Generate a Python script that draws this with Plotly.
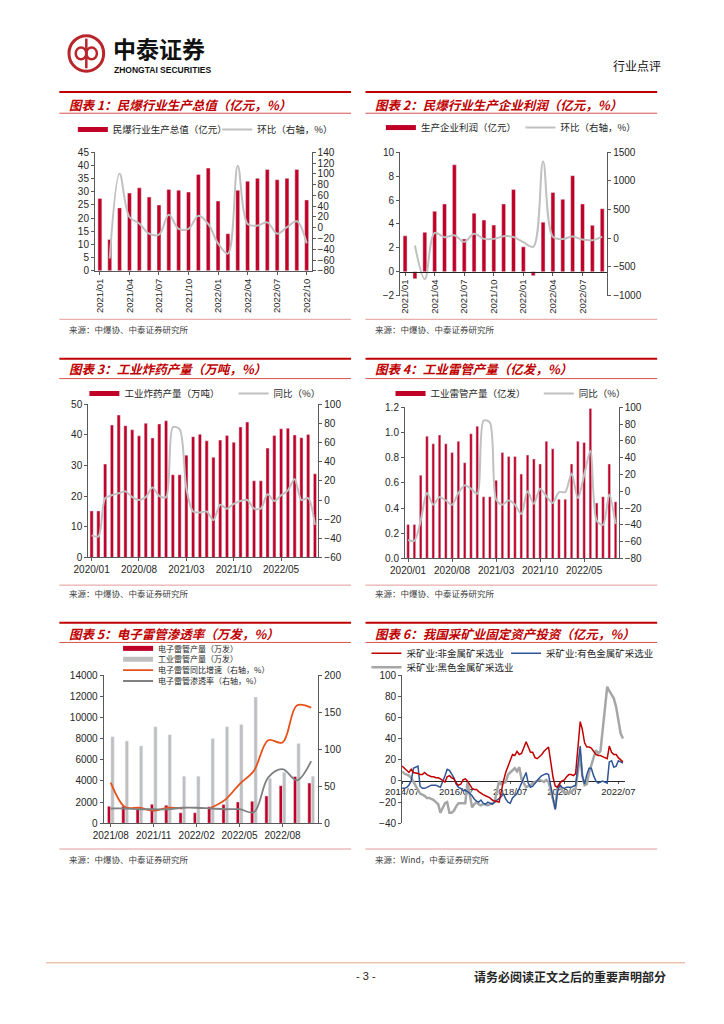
import plotly.graph_objects as go
import pandas as pd

W, H = 724, 1024


def px(x):
    return x / W


def py(y):
    return 1 - y / H


RED = '#C00026'
LINE_GRAY = '#C0C0C0'
TITLE_RED = '#C00000'
CJK = 'Noto Sans CJK SC'
NUM = 'Liberation Sans'

# ---------------- data ----------------
# Chart 1: 民爆行业生产总值（亿元）, 环比（%）
c1_months = [f'{d:%Y/%m}' for d in pd.date_range('2021-01-01', '2022-10-01', freq='MS')]
c1_value = [27.5, 11.9, 23.9, 29.5, 31.5, 28.0, 25.0, 30.9, 30.6, 29.9, 36.6, 39.0,
            26.5, 14.1, 30.6, 34.0, 35.1, 38.5, 34.6, 35.1, 38.5, 26.9]
c1_mom = [None, -57, 100, 20, 8, -11, -13, 24, -2, -2, 22, 7,
          -29, -48, 115, 7, 4, 10, -11, 1, 12, -29]
c1_ticks = ['2021/01', '2021/04', '2021/07', '2021/10', '2022/01', '2022/04', '2022/07', '2022/10']

# Chart 2: 生产企业利润（亿元）, 环比（%）
c2_months = [f'{d:%Y/%m}' for d in pd.date_range('2021-01-01', '2022-09-01', freq='MS')]
c2_profit = [3.0, -0.6, 3.3, 5.06, 5.67, 8.95, 2.74, 4.9, 4.32, 3.9, 5.67, 6.88,
             2.08, -0.34, 4.15, 6.63, 6.06, 8.04, 5.67, 3.88, 5.28]
c2_mom = [None, -126, -713, 92, 17, 52, -63, 80, -11, -11, 34, 23,
          -69, -150, 1340, 23, -11, 29, -23, -34, 29]
c2_ticks = ['2021/01', '2021/04', '2021/07', '2021/10', '2022/01', '2022/04', '2022/07']

# Chart 3: 工业炸药产量（万吨）, 同比（%）
c34_months = [f'{d:%Y/%m}' for d in pd.date_range('2020-01-01', '2022-10-01', freq='MS')]
c3_output = [15.2, 15.2, 30.5, 43.2, 46.5, 43.0, 41.7, 39.7, 43.8, 39.0, 43.6, 44.6,
             27.0, 27.0, 33.4, 39.4, 40.2, 38.1, 32.7, 38.3, 39.8, 37.6, 42.6, 44.2,
             25.0, 25.0, 35.7, 39.8, 42.0, 42.2, 40.0, 39.1, 40.1, 27.3]
c3_yoy = [-37, -38, 2, 5, 7, 9, 3, 0, 3, 13, 4, 3,
          76, 74, 12, -12, -13, -12, -21, -5, -9, -4, -1, 0,
          -9, -9, 6, -1, 5, 10, 22, 0, 2, -26]
c34_ticks = ['2020/01', '2020/08', '2021/03', '2021/10', '2022/05']

# Chart 4: 工业雷管产量（亿发）, 同比（%）
c4_output = [0.27, 0.27, 0.66, 0.97, 0.91, 0.98, 0.91, 0.84, 0.93, 0.76, 0.99, 1.05,
             0.49, 0.49, 0.62, 0.84, 0.81, 0.81, 0.67, 0.82, 0.79, 0.75, 0.93, 0.87,
             0.47, 0.47, 0.75, 0.93, 0.92, 1.19, 0.44, 0.49, 0.75, 0.45]
c4_yoy = [-58, -59, -35, -2, -16, -7, -11, -16, -2, 7, 3, -3,
          84, 82, -10, -16, -11, -16, -27, 0, -15, 3, -6, -14,
          -1, -1, 21, -8, 19, 48, -35, -40, -4, -39]

# Chart 5: 电子雷管渗透率
c5_months = [f'{d:%Y/%m}' for d in pd.date_range('2021-08-01', '2022-10-01', freq='MS')]
c5_electronic = [1620, 1620, 1400, 1800, 1710, 1000, 1000, 1560, 1770, 2020, 2080, 2580, 3550, 4420, 3800]
c5_industrial = [8180, 7780, 7310, 9120, 8370, 4450, 4450, 8000, 9120, 9330, 11920, 4260, 4820, 7530, 4450]
c5_growth = [55, 22, 21, 17, 21, 20, None, 21, 32, 53, 71, 112, 109, 159, 156]
c5_penetration = [20, 20, 19, 19, 19, 21, 21, 20, 19, 19, 15, 62, 73, 58, 84]
c5_ticks = ['2021/08', '2021/11', '2022/02', '2022/05', '2022/08']

# Chart 6: 我国采矿业固定资产投资（累计同比, %）; January not published
c6_dates = [d for d in pd.date_range('2014-07-01', '2022-09-01', freq='MS') if d.month != 1]
c6_nonmetal = [
    14, 12, 10, 8, 11, 8,
    7, 6, 6, 8, 6, 5, 4, 4, 3, 3, 2,
    -1, 4, 5, 3, 2, -2, -4, -3, 1, 2, 0,
    -7, -8, -8, -10, -12, -13, -14, -15, -16, -18, -19,
    -20, -10, 0, 8, 14, 20, 25, 24, 28, 25, 26,
    37, 32, 27, 27, 22, 21, 23, 25, 28, 30, 32,
    3, -5, -6, -2, 0, 1, 4, 6, 6, 5, 7,
    56, 49, 36, 32, 32, 31, 28, 25, 24, 24, 23,
    21, 33, 27, 25, 25, 22, 20, 18]
c6_nonferrous = [
    -7, -7, -6, -4, 0, 12,
    14, -5, -7, -7, -6, -5, -4, -4, -4, -5, -6,
    5, 11, 10, 7, 3, -3, -6, -7, -9, -9, -10,
    -14, -17, -19, -20, -18, -21, -22, -20, -21, -22, -20,
    -17, -15, -12, -17, -20, -21, -16, -14, -12, -7, -2,
    8, -2, -6, -5, -2, 1, 3, 5, 6, 7, 6,
    -18, -27, -10, -4, -6, -7, -6, -6, -6, -5, -4,
    33, 5, -3, 6, 12, 12, 5, 0, -2, -1, 0,
    -2, 18, 19, 13, 14, 19, 18, 17]
c6_ferrous = [
    9, 7, 6, 5, 3, -1,
    -9, -12, -13, -14, -16, -16, -17, -18, -20, -22, -30,
    -21, -20, -30, -30, -28, -24, -21, -21, -21, -21, -1,
    -25, -22, -20, -22, -23, -22, -22, -23, -22, -21, -20,
    0, -3, -2, -1, 6, 8, 10, 12, 9, 13, 2,
    -6, -5, -4, -2, -1, 0, 1, 0, -1, 1, -1,
    -18, -26, -5, -3, -9, -11, -11, -11, -11, -8, -7,
    25, 5, -4, -3, 8, 14, 22, 29, 26, 28, 50,
    89, 85, 82, 78, 70, 58, 45, 40]

# ---------------- figure ----------------
fig = go.Figure()


def legend_entry(name, color, width, legend, xa, ya):
    fig.add_trace(go.Scatter(x=[None], y=[None], mode='lines', name=name,
                             line=dict(color=color, width=width), legend=legend,
                             xaxis=xa, yaxis=ya, hoverinfo='skip'))


# Chart 1
fig.add_trace(go.Bar(x=c1_months, y=c1_value, marker_color=RED, width=0.4,
                     xaxis='x', yaxis='y', showlegend=False))
legend_entry('民爆行业生产总值（亿元）', RED, 5, 'legend', 'x', 'y')
fig.add_trace(go.Scatter(x=c1_months, y=c1_mom, mode='lines', name='环比（右轴，%）',
                         line=dict(color=LINE_GRAY, width=2, shape='spline', smoothing=1.0),
                         xaxis='x', yaxis='y2', legend='legend2'))

# Chart 2
fig.add_trace(go.Bar(x=c2_months, y=c2_profit, marker_color=RED, width=0.4,
                     xaxis='x2', yaxis='y3', showlegend=False))
legend_entry('生产企业利润（亿元）', RED, 5, 'legend3', 'x2', 'y3')
fig.add_trace(go.Scatter(x=c2_months, y=c2_mom, mode='lines', name='环比（右轴，%）',
                         line=dict(color=LINE_GRAY, width=2, shape='spline', smoothing=1.0),
                         xaxis='x2', yaxis='y4', legend='legend4'))

# Chart 3
fig.add_trace(go.Bar(x=c34_months, y=c3_output, marker_color=RED, width=0.47,
                     xaxis='x3', yaxis='y5', showlegend=False))
legend_entry('工业炸药产量（万吨）', RED, 5, 'legend5', 'x3', 'y5')
fig.add_trace(go.Scatter(x=c34_months, y=c3_yoy, mode='lines', name='同比（%）',
                         line=dict(color=LINE_GRAY, width=2, shape='spline', smoothing=0.8),
                         xaxis='x3', yaxis='y6', legend='legend6'))

# Chart 4
fig.add_trace(go.Bar(x=c34_months, y=c4_output, marker_color=RED, width=0.42,
                     xaxis='x4', yaxis='y7', showlegend=False))
legend_entry('工业雷管产量（亿发）', RED, 5, 'legend7', 'x4', 'y7')
fig.add_trace(go.Scatter(x=c34_months, y=c4_yoy, mode='lines', name='同比（%）',
                         line=dict(color=LINE_GRAY, width=2, shape='spline', smoothing=0.8),
                         xaxis='x4', yaxis='y8', legend='legend8'))

# Chart 5
fig.add_trace(go.Bar(x=c5_months, y=c5_electronic, marker_color=RED, width=0.23, offset=-0.235,
                     xaxis='x5', yaxis='y9', showlegend=False))
fig.add_trace(go.Bar(x=c5_months, y=c5_industrial, marker_color='#BFBFBF', width=0.23, offset=0.005,
                     xaxis='x5', yaxis='y9', showlegend=False))
legend_entry('电子雷管产量（万发）', RED, 5, 'legend9', 'x5', 'y9')
legend_entry('工业雷管产量（万发）', '#BFBFBF', 5, 'legend10', 'x5', 'y9')
fig.add_trace(go.Scatter(x=c5_months, y=c5_growth, mode='lines', name='电子雷管同比增速（右轴，%）',
                         line=dict(color='#E8501A', width=1.8, shape='spline', smoothing=1.0),
                         xaxis='x5', yaxis='y10', legend='legend11'))
fig.add_trace(go.Scatter(x=c5_months, y=c5_penetration, mode='lines', name='电子雷管渗透率（右轴，%）',
                         line=dict(color='#808080', width=1.8, shape='spline', smoothing=1.0),
                         xaxis='x5', yaxis='y10', legend='legend12'))

# Chart 6
fig.add_trace(go.Scatter(x=c6_dates, y=c6_ferrous, mode='lines', name='采矿业:黑色金属矿采选业',
                         line=dict(color='#A6A6A6', width=2.5), xaxis='x6', yaxis='y11', legend='legend15'))
fig.add_trace(go.Scatter(x=c6_dates, y=c6_nonferrous, mode='lines', name='采矿业:有色金属矿采选业',
                         line=dict(color='#2F5597', width=1.5), xaxis='x6', yaxis='y11', legend='legend14'))
fig.add_trace(go.Scatter(x=c6_dates, y=c6_nonmetal, mode='lines', name='采矿业:非金属矿采选业',
                         line=dict(color='#C00000', width=1.5), xaxis='x6', yaxis='y11', legend='legend13'))

# ---------------- axes ----------------
TICKFONT = dict(family=NUM, size=10, color='#262626')
AX = dict(showline=True, linecolor='#595959', linewidth=1, ticks='outside', ticklen=3,
          tickcolor='#595959', showgrid=False, zeroline=False, tickfont=TICKFONT, fixedrange=True)


def dx(a, b):
    return [px(a), px(b)]


def dy(top, bottom):
    return [py(bottom), py(top)]


layout = dict(
    width=W, height=H, margin=dict(l=0, r=0, t=0, b=0),
    paper_bgcolor='white', plot_bgcolor='rgba(0,0,0,0)', barmode='overlay',
    font=dict(family=CJK, color='#262626'),
    # chart 1
    xaxis=dict(AX, domain=dx(81, 306), anchor='y', type='category', range=[-0.5, 21.5],
               tickvals=c1_ticks, ticktext=c1_ticks, tickangle=-90, tickfont=dict(TICKFONT, size=9.5)),
    yaxis=dict(AX, domain=dy(148, 268), anchor='x', range=[0, 45], dtick=5),
    yaxis2=dict(AX, overlaying='y', side='right', anchor='x', range=[-80, 140], dtick=20),
    # chart 2
    xaxis2=dict(AX, domain=dx(398, 613), anchor='free', position=py(268.8), type='category',
                range=[-0.5, 20.5], tickvals=c2_ticks, ticktext=c2_ticks, tickangle=-90,
                tickfont=dict(TICKFONT, size=9.5), linecolor='#262626'),
    yaxis3=dict(AX, domain=dy(148, 293), anchor='x2', range=[-2, 10], dtick=2),
    yaxis4=dict(AX, overlaying='y3', side='right', anchor='x2', range=[-1000, 1500], dtick=500),
    # chart 3
    xaxis3=dict(AX, domain=dx(74, 313), anchor='y5', type='category', range=[-0.5, 33.5],
                tickvals=c34_ticks, ticktext=c34_ticks),
    yaxis5=dict(AX, domain=dy(403, 558), anchor='x3', range=[0, 50], dtick=10),
    yaxis6=dict(AX, overlaying='y5', side='right', anchor='x3', range=[-60, 100], dtick=20),
    # chart 4
    xaxis4=dict(AX, domain=dx(403, 625), anchor='y7', type='category', range=[-0.5, 33.5],
                tickvals=c34_ticks, ticktext=c34_ticks),
    yaxis7=dict(AX, domain=dy(406, 559), anchor='x4', range=[0, 1.2], dtick=0.2, tickformat='.1f'),
    yaxis8=dict(AX, overlaying='y7', side='right', anchor='x4', range=[-80, 100], dtick=20),
    # chart 5
    xaxis5=dict(AX, domain=dx(90, 313), anchor='y9', type='category', range=[-0.5, 14.5],
                tickvals=c5_ticks, ticktext=c5_ticks),
    yaxis9=dict(AX, domain=dy(677, 827), anchor='x5', range=[0, 14000], dtick=2000, tickformat='d'),
    yaxis10=dict(AX, overlaying='y9', side='right', anchor='x5', range=[0, 200], dtick=50),
    # chart 6
    xaxis6=dict(AX, domain=dx(400, 632), anchor='free', position=py(784), type='date',
                range=['2014-07-01', '2022-10-05'], tick0='2014-07-01', dtick='M24',
                tickformat='%Y/%m', linecolor='#262626', layer='below traces', ticklen=2,
                tickfont=dict(TICKFONT, size=9.5)),
    yaxis11=dict(AX, domain=dy(677, 827), anchor='x6', range=[-40, 100], dtick=20),
)

LEG = dict(bgcolor='rgba(0,0,0,0)', borderwidth=0, orientation='h', xanchor='left',
           yanchor='middle', itemwidth=30, font=dict(family=CJK, size=9.5, color='#262626'),
           itemclick=False, itemdoubleclick=False)

legend_pos = {
    'legend': (58, 125), 'legend2': (208, 125),
    'legend3': (378, 123), 'legend4': (523, 123),
    'legend5': (70, 392), 'legend6': (225, 392),
    'legend7': (388, 392), 'legend8': (542, 392),
    'legend9': (105, 650), 'legend10': (105, 661), 'legend11': (105, 672), 'legend12': (105, 683),
    'legend13': (363, 655), 'legend14': (508, 655), 'legend15': (363, 669),
}
for key, (lx, ly) in legend_pos.items():
    layout[key] = dict(LEG, x=px(lx), y=py(ly))
for key in ('legend9', 'legend10', 'legend11', 'legend12'):
    layout[key]['font'] = dict(family=CJK, size=8, color='#262626')

fig.update_layout(**layout)

# ---------------- page decorations ----------------
shapes = []
annotations = []


def hline(x0, x1, y, color, width):
    shapes.append(dict(type='line', xref='paper', yref='paper', x0=px(x0), x1=px(x1),
                       y0=py(y), y1=py(y), line=dict(color=color, width=width)))


def text(x, y, s, size, color='#262626', anchor='left', family=CJK):
    annotations.append(dict(xref='paper', yref='paper', x=px(x), y=py(y), text=s, showarrow=False,
                            xanchor=anchor, yanchor='middle', font=dict(family=family, size=size, color=color)))


panels = [
    # (x0, x1, top, title_y, thin, source_line, source_y, title, source)
    (44, 347, 87, 100, 108.5, 317, 327, '图表 1：民爆行业生产总值（亿元，%）', '来源：中爆协、中泰证券研究所'),
    (362, 665, 87, 100, 108.5, 317, 327, '图表 2：民爆行业生产企业利润（亿元，%）', '来源：中爆协、中泰证券研究所'),
    (44, 347, 357, 367, 377, 586, 594, '图表 3：工业炸药产量（万吨，%）', '来源：中爆协、中泰证券研究所'),
    (362, 665, 357, 367, 377, 586, 594, '图表 4：工业雷管产量（亿发，%）', '来源：中爆协、中泰证券研究所'),
    (44, 347, 624, 635, 644, 853, 863, '图表 5：电子雷管渗透率（万发，%）', '来源：中爆协、中泰证券研究所'),
    (362, 665, 624, 635, 644, 853, 863, '图表 6：我国采矿业固定资产投资（亿元，%）', '来源：Wind，中泰证券研究所'),
]
for x0, x1, top, ty, thin, sl, sy, title, source in panels:
    hline(x0, x1, top, TITLE_RED, 2)
    hline(x0, x1, thin, '#D9534F', 1)
    hline(x0, x1, sl, '#E39A9A', 1)
    text(x0 + 8, ty, f'<b><i>{title}</i></b>', 12.5, TITLE_RED)
    text(x0 + 8, sy, source, 8.5, '#404040')

# header logo
LOGO = '#B8252B'
shapes.append(dict(type='circle', xref='paper', yref='paper', x0=px(54), x1=px(90), y0=py(30), y1=py(66),
                   line=dict(color=LOGO, width=3)))
shapes.append(dict(type='line', xref='paper', yref='paper', x0=px(72), x1=px(72), y0=py(33), y1=py(63),
                   line=dict(color=LOGO, width=2.5)))
shapes.append(dict(type='circle', xref='paper', yref='paper', x0=px(61), x1=px(72), y0=py(42), y1=py(54),
                   line=dict(color=LOGO, width=2.5)))
shapes.append(dict(type='circle', xref='paper', yref='paper', x0=px(72), x1=px(83), y0=py(42), y1=py(54),
                   line=dict(color=LOGO, width=2.5)))
text(98, 42, '<b>中泰证券</b>', 23, '#111111')
text(99, 64.5, '<b>ZHONGTAI SECURITIES</b>', 8.5, '#111111', family=NUM)
text(671, 60, '行业点评', 12, '#111111', anchor='right')

# footer
hline(30, 694, 968, '#E8C3AE', 1.5)
text(362, 982, '- 3 -', 11, '#262626', anchor='center', family=NUM)
text(676, 982, '<b>请务必阅读正文之后的重要声明部分</b>', 12, '#262626', anchor='right')

fig.update_layout(shapes=shapes, annotations=annotations)

fig.write_html('out.html', config={'displayModeBar': False},
               post_script="document.body.style.margin='0';")
